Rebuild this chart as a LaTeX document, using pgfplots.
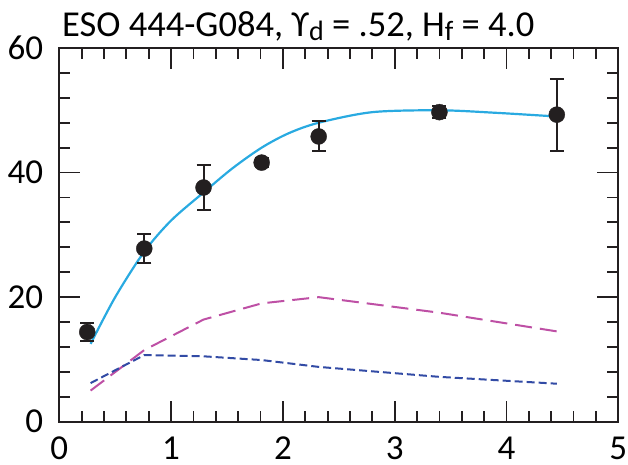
\documentclass[border=0pt]{standalone}
\usepackage{pgfplots}
\pgfplotsset{compat=1.18}
\usepackage{fontspec}
\setmainfont{Carlito}
\definecolor{cyanl}{RGB}{41,170,225}
\definecolor{magl}{RGB}{190,80,165}
\definecolor{dbl}{RGB}{50,75,165}
\definecolor{pt}{RGB}{35,31,32}
\begin{document}
\begin{tikzpicture}
\begin{axis}[
  scale only axis, width=559pt, height=373.7pt,
  xmin=0, xmax=5, ymin=0, ymax=60,
  xtick={0,1,2,3,4,5}, ytick={0,20,40,60},
  minor x tick num=4, minor y tick num=4,
  tick align=inside, tick pos=both,
  major tick length=21pt, minor tick length=11pt,
  axis line style={line width=1.8pt, pt},
  every tick/.style={line width=1.8pt, pt},
  /pgf/number format/assume math mode=true,
  ticklabel style={font=\fontsize{35}{38}\selectfont, text=black, inner sep=0pt},
  xticklabel style={anchor=north, yshift=-15pt},
  yticklabel style={anchor=east, xshift=-16pt},
  clip=false,
]
\coordinate (ll) at (rel axis cs:0,0);
\coordinate (ur) at (rel axis cs:1,1);
\addplot[cyanl, line width=2.2pt, smooth] coordinates {
(0.28,12.5)(0.5,20.0)(0.76,27.3)(1.0,32.3)(1.29,36.8)(1.55,40.7)(1.81,44.0)(2.05,46.3)(2.32,48.0)(2.8,49.7)(3.4,50.0)(3.9,49.6)(4.45,49.0)};
\addplot[magl, line width=2pt, dash pattern=on 17pt off 8pt] coordinates {
(0.28,5.0)(0.76,11.5)(1.29,16.4)(1.81,19.0)(2.32,20.0)(3.4,17.5)(4.45,14.5)};
\addplot[dbl, line width=2pt, dash pattern=on 8pt off 4pt] coordinates {
(0.28,6.2)(0.76,10.7)(1.29,10.5)(1.81,9.9)(2.32,8.8)(3.4,7.2)(4.45,6.1)};
\addplot[only marks, mark=*, mark size=8pt, pt, mark options={fill=pt, draw=pt},
  error bars/.cd, y dir=both, y explicit,
  error bar style={line width=2pt, pt},
  error mark options={rotate=90, mark size=7pt, line width=2pt, pt}]
  coordinates {
(0.25,14.4) +- (0,1.4)
(0.76,27.8) +- (0,2.3)
(1.29,37.6) +- (0,3.6)
(1.81,41.6) +- (0,0.7)
(2.32,45.8) +- (0,2.4)
(3.40,49.7) +- (0,1.0)
(4.45,49.3) +- (0,5.8)
};
\node[anchor=base west, inner sep=0pt, font=\fontsize{36.5}{40}\selectfont] at ([yshift=11pt, xshift=2.7pt]rel axis cs:0,1)
 {ESO 444-G084, ϒ\raisebox{-4pt}{\fontsize{28}{30}\selectfont d} = .52, H\raisebox{-4pt}{\fontsize{28}{30}\selectfont f} = 4.0};
\end{axis}
\pgfresetboundingbox
\path[use as bounding box] ([xshift=-59.3pt, yshift=-42.3pt]ll) rectangle ([xshift=9.7pt, yshift=48pt]ur);
\end{tikzpicture}
\end{document}
